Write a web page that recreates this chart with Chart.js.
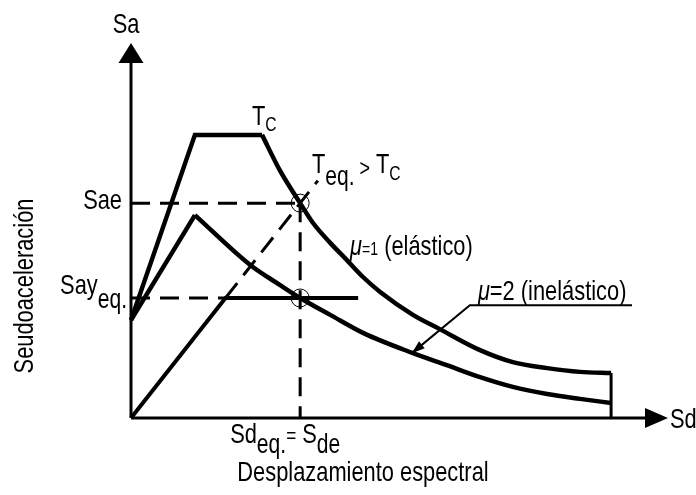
<!DOCTYPE html>
<html>
<head>
<meta charset="utf-8">
<script src="https://cdn.jsdelivr.net/npm/chart.js@4.4.1/dist/chart.umd.min.js"></script>
<style>
  body { margin: 0; background: #fff; }
  #wrap { width: 696px; height: 495px; }
</style>
</head>
<body>
<div id="wrap"><canvas id="espectro" width="696" height="495"></canvas></div>
<script>
// Espectro elastico (mu=1): rama ascendente + meseta, luego rama descendente
var sdElasticRise = [0, 11.9, 24.4];
var saElasticRise = [26.1, 75.5, 75.5];
var sdElasticDecay = [24.4, 27.7, 31.5, 33.9, 37.1, 40.2, 43.2, 46.4, 52.5, 57.5, 65.0, 71.1, 77.5, 83.6, 89.4];
var saElasticDecay = [75.5, 66.1, 57.3, 52.0, 46.7, 42.1, 37.6, 33.6, 27.5, 23.7, 18.1, 14.9, 13.3, 12.3, 12.0];

// Espectro inelastico (mu=2)
var sdInelasticRise = [0, 11.9];
var saInelasticRise = [26.1, 54.1];
var sdInelasticDecay = [11.9, 22.2, 27.7, 31.5, 37.1, 43.2, 52.5, 58.8, 65.0, 71.1, 77.5, 83.6, 89.4];
var saInelasticDecay = [54.1, 40.8, 35.5, 32.0, 27.5, 22.7, 17.3, 14.1, 10.9, 8.3, 6.4, 5.1, 4.0];

// punto de desempeno y curva de capacidad bilineal
var sde = 31.5;
var sae = 57.3;
var sayEq = 32.0;
var sdCapEnd = 42.3;
var sdPeriodEnd = 34.8;
var sdEnd = 89.4;

var slope = sae / sde;             // recta del periodo T_eq
var sdYield = sayEq / slope;

function pts(xs, ys) {
  return xs.map(function (x, i) { return { x: x, y: ys[i] }; });
}

// no hay Arial Narrow: se comprime la Liberation Sans en horizontal
var FONT = '"Liberation Sans", Arial, sans-serif';
var NARROW = 0.78;

var black = '#000';
var solid = function (data, w, extra) {
  return Object.assign({ data: data, showLine: true, borderColor: black, borderWidth: w,
    pointRadius: 0, clip: false, borderJoinStyle: 'miter', tension: 0 }, extra || {});
};
var dashed = function (data) {
  return solid(data, 3, { borderDash: [19, 10] });
};

// textos: ancla en datos + desplazamiento en px, con subindices como tramos
var labels = [
  { at: [0, 100], dx: -5, dy: -10, align: 'center', runs: [['Sa', 28, 0]] },
  { at: [100, 0], dx: 2, dy: 10, align: 'left', runs: [['Sd', 28, 0]] },
  { at: [0, sae], dx: -9, dy: 6, align: 'right', runs: [['Sae', 28, 0]] },
  { at: [0, sayEq], dx: -4, dy: -4, align: 'right', runs: [['Say', 28, 0], ['eq.', 27, 14]] },
  { at: [sdElasticRise[2], saElasticRise[2]], dx: -10, dy: -10, align: 'left', runs: [['T', 28, 0], ['C', 20, 6]] },
  { at: [sdPeriodEnd, sdPeriodEnd * slope], dx: -6, dy: -8, align: 'left',
    runs: [['T', 28, 0], ['eq.', 27, 12], [' >', 23, 3], [' T', 28, 0], ['C', 20, 7]] },
  { at: [40.8, 43.5], dx: 0, dy: 0, align: 'left',
    runs: [['\u03bc', 28, 0, 'italic'], ['=1', 18, 0], [' (el\u00e1stico)', 28, 0]] },
  { at: [64.6, 31.5], dx: 0, dy: 0, align: 'left',
    runs: [['\u03bc', 28, 0, 'italic'], ['=2', 28, 0], [' (inel\u00e1stico)', 28, 0]] },
  { at: [sde, 0], dx: -70, dy: 25, align: 'left',
    runs: [['Sd', 28, 0], ['eq.', 27, 10], ['=', 22, 0], [' S', 28, 0], ['de', 27, 10]] },
  { at: [43.2, 0], dx: 0, dy: 63, align: 'center', runs: [['Desplazamiento espectral', 28, 0]] }
];

function drawRuns(ctx, x, y, runs, align) {
  var widths = runs.map(function (r) {
    ctx.font = (r[3] || '') + ' ' + r[1] + 'px ' + FONT;
    return ctx.measureText(r[0]).width * NARROW;
  });
  var total = widths.reduce(function (a, b) { return a + b; }, 0);
  if (align === 'right') x -= total;
  if (align === 'center') x -= total / 2;
  runs.forEach(function (r, i) {
    ctx.font = (r[3] || '') + ' ' + r[1] + 'px ' + FONT;
    ctx.save();
    ctx.translate(x, y + r[2]);
    ctx.scale(NARROW, 1);
    ctx.fillText(r[0], 0, 0);
    ctx.restore();
    x += widths[i];
  });
}

function arrowHead(ctx, tipX, tipY, angle, len, half) {
  ctx.save();
  ctx.translate(tipX, tipY);
  ctx.rotate(angle);
  ctx.beginPath();
  ctx.moveTo(0, 0);
  ctx.lineTo(-len, -half);
  ctx.lineTo(-len, half);
  ctx.closePath();
  ctx.fill();
  ctx.restore();
}

var annotations = {
  id: 'annotations',
  afterDatasetsDraw: function (chart) {
    var ctx = chart.ctx;
    var xs = chart.scales.x, ys = chart.scales.y;
    var px = function (v) { return xs.getPixelForValue(v); };
    var py = function (v) { return ys.getPixelForValue(v); };
    ctx.save();
    ctx.fillStyle = black;
    ctx.strokeStyle = black;

    // flechas de los ejes
    arrowHead(ctx, px(0), py(100), -Math.PI / 2, 20, 12.5);
    arrowHead(ctx, px(100), py(0), 0, 23, 10);

    // linea de referencia del espectro inelastico
    ctx.lineWidth = 2;
    ctx.beginPath();
    ctx.moveTo(px(93.3), py(30.1));
    ctx.lineTo(px(63.1), py(30.1));
    ctx.lineTo(px(52.3), py(17.3));
    ctx.stroke();
    var ang = Math.atan2(py(17.3) - py(30.1), px(52.3) - px(63.1));
    arrowHead(ctx, px(52.3), py(17.3), ang, 13, 4.5);

    ctx.textBaseline = 'alphabetic';
    labels.forEach(function (l) {
      drawRuns(ctx, px(l.at[0]) + l.dx, py(l.at[1]) + l.dy, l.runs, l.align);
    });

    // titulo vertical
    ctx.save();
    ctx.translate(px(0) - 98, py(35.2));
    ctx.rotate(-Math.PI / 2);
    drawRuns(ctx, 0, 0, [['Seudoaceleraci\u00f3n', 28, 0]], 'center');
    ctx.restore();

    ctx.restore();
  }
};

new Chart(document.getElementById('espectro'), {
  type: 'scatter',
  data: {
    datasets: [
      // ejes
      solid([{ x: 0, y: 0 }, { x: 0, y: 96 }], 3),
      solid([{ x: 0, y: 0 }, { x: 97, y: 0 }], 3),
      // espectros
      solid(pts(sdElasticRise, saElasticRise), 4.5),
      solid(pts(sdElasticDecay, saElasticDecay), 4.5, { cubicInterpolationMode: 'monotone' }),
      solid(pts(sdInelasticRise, saInelasticRise), 4.5),
      solid(pts(sdInelasticDecay, saInelasticDecay), 4.5, { cubicInterpolationMode: 'monotone' }),
      solid([{ x: sdEnd, y: 0 }, { x: sdEnd, y: saElasticDecay[saElasticDecay.length - 1] }], 3),
      // curva de capacidad bilineal
      solid([{ x: 0, y: 0 }, { x: sdYield, y: sayEq }, { x: sdCapEnd, y: sayEq }], 4),
      // recta T_eq y lineas guia
      dashed([{ x: sdYield, y: sayEq }, { x: sdPeriodEnd, y: sdPeriodEnd * slope }]),
      dashed([{ x: 0, y: sae }, { x: sde, y: sae }]),
      dashed([{ x: sde, y: sae }, { x: sde, y: 0 }]),
      dashed([{ x: 0, y: sayEq }, { x: sdYield, y: sayEq }]),
      // puntos de interseccion
      { data: [{ x: sde, y: sae }, { x: sde, y: sayEq }], showLine: false, pointRadius: 9,
        pointBorderWidth: 1, pointBorderColor: black, pointBackgroundColor: 'rgba(0,0,0,0)', clip: false }
    ]
  },
  options: {
    responsive: false,
    animation: false,
    events: [],
    layout: { padding: { left: 131, right: 28, top: 43, bottom: 77 } },
    scales: {
      x: { type: 'linear', min: 0, max: 100, display: false },
      y: { type: 'linear', min: 0, max: 100, display: false }
    },
    plugins: { legend: { display: false }, tooltip: { enabled: false } }
  },
  plugins: [annotations]
});
</script>
</body>
</html>
